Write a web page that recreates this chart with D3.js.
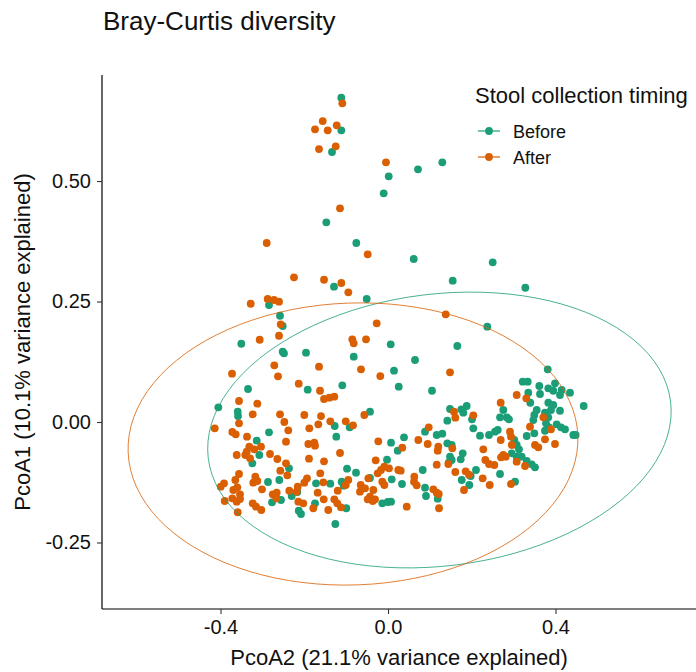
<!DOCTYPE html>
<html>
<head>
<meta charset="utf-8">
<script src="https://cdn.jsdelivr.net/npm/d3@7"></script>
<style>
  body { margin: 0; background: #fff; }
  svg { display: block; font-family: "Liberation Sans", Arial, sans-serif; }
</style>
</head>
<body>
<svg id="chart" width="696" height="672"></svg>
<script>
// PCoA coordinates: [PcoA2, PcoA1]
const before = [
  [-0.1115,0.6728],[-0.1115,0.6052],[-0.1337,0.5602],[-0.1473,0.4143],[-0.1290,0.2807],
  [-0.2842,0.2427],[-0.2579,0.2205],[-0.2515,0.1992],[0.0017,0.5098],[0.0716,0.5243],
  [0.1297,0.5388],[-0.0103,0.4745],[-0.0757,0.3714],[0.0614,0.3382],[0.2500,0.3313],
  [0.1545,0.2932],[0.3279,0.2786],[-0.0509,0.2552],[0.2371,0.1977],[-0.3503,0.1624],
  [-0.2515,0.1459],[-0.2484,0.1425],[-0.3343,0.0685],[-0.4052,0.0305],[-0.3589,0.0214],
  [-0.3582,0.0124],[-0.2842,-0.0214],[-0.3135,-0.0388],[-0.3073,-0.0685],[-0.3240,-0.0857],
  [-0.2364,-0.0961],[-0.2866,-0.1245],[-0.2596,-0.1203],[-0.2770,-0.1666],[-0.2555,-0.1618],
  [-0.2300,-0.1535],[-0.2132,-0.1840],[0.0064,0.1612],[-0.1958,0.1438],[-0.0819,0.1355],
  [0.0143,0.1064],[-0.1918,0.0670],[-0.1091,0.0761],[-0.0430,0.0214],[-0.1273,-0.0083],
  [-0.0915,-0.0110],[-0.1235,-0.0305],[0.0072,-0.0429],[-0.0024,-0.0782],[-0.0979,-0.0969],
  [-0.0764,-0.1052],[-0.1106,-0.1239],[-0.0430,-0.1162],[0.0088,-0.1189],[-0.1719,-0.1272],
  [-0.1378,-0.1280],[-0.1058,-0.1322],[-0.2166,-0.1452],[-0.1743,-0.1687],[-0.0136,-0.1687],
  [-0.0007,-0.1660],[-0.0996,-0.1790],[-0.2078,-0.1909],[-0.1258,-0.2116],[0.1655,0.1577],
  [0.0645,0.1286],[0.0256,0.0732],[0.1051,0.0649],[0.1481,0.0270],[0.1750,0.0263],
  [0.1879,0.0332],[0.1798,0.0193],[0.1416,0.0027],[0.2006,0.0056],[0.2037,-0.0131],
  [0.2197,-0.0284],[0.2412,-0.0270],[0.0884,-0.0201],[0.1163,-0.0270],[0.1297,-0.0243],
  [0.0382,-0.0317],[0.1416,-0.0442],[0.1521,-0.0477],[0.0232,-0.0595],[0.1784,-0.0649],
  [0.1481,-0.0720],[0.1450,-0.0844],[0.1521,-0.0788],[0.1736,-0.0774],[0.0829,-0.0996],
  [0.2101,-0.0996],[0.1975,-0.1120],[0.1760,-0.1203],[0.1941,-0.1307],[0.0334,-0.1286],
  [0.0884,-0.1363],[0.0907,-0.1535],[0.1187,-0.1591],[0.0072,-0.1654],[0.3814,0.1093],
  [0.3217,0.0836],[0.3336,0.0836],[0.3613,0.0747],[0.3828,0.0699],[0.3988,0.0803],
  [0.3947,0.0649],[0.4148,0.0664],[0.4107,0.0560],[0.4346,0.0608],[0.3350,0.0608],
  [0.3630,0.0581],[0.3398,0.0400],[0.4673,0.0332],[0.3828,0.0400],[0.3947,0.0353],
  [0.3892,0.0249],[0.4107,0.0234],[0.3749,0.0193],[0.3551,0.0249],[0.3494,0.0145],
  [0.3470,0.0041],[0.3828,0.0098],[0.3773,-0.0027],[0.3845,-0.0110],[0.3749,-0.0181],
  [0.4028,-0.0048],[0.4131,-0.0110],[0.4227,-0.0151],[0.4425,-0.0270],[0.4482,-0.0270],
  [0.2753,0.0249],[0.2675,0.0098],[0.2835,0.0098],[0.2889,0.0056],[0.3312,-0.0290],
  [0.3494,-0.0234],[0.2555,-0.0201],[0.2620,-0.0166],[0.3016,-0.0373],[0.3073,-0.0477],
  [0.3128,-0.0566],[0.2954,-0.0649],[0.3073,-0.0720],[0.3193,-0.0720],[0.3312,-0.0809],
  [0.3432,-0.0878],[0.3510,-0.0940],[0.2675,-0.1079],[0.3033,-0.1239]
];

const after = [
  [-0.1091,0.6612],[-0.1559,0.6245],[-0.1743,0.6073],[-0.1440,0.6052],[-0.1225,0.6156],
  [-0.1648,0.5664],[-0.1249,0.5720],[-0.1146,0.4434],[-0.2897,0.3714],[-0.2245,0.3002],
  [-0.1528,0.2952],[-0.1115,0.2884],[-0.0948,0.2691],[-0.3279,0.2454],[-0.2873,0.2552],
  [-0.2722,0.2531],[-0.2603,0.2496],[-0.2562,0.2027],[-0.0048,0.5388],[-0.0485,0.3479],
  [-0.0270,0.2048],[0.1378,0.2234],[-0.3064,0.1707],[-0.2603,0.1790],[-0.3725,0.1002],
  [-0.2715,0.1176],[-0.2627,0.0948],[-0.2132,0.0795],[-0.3558,0.0436],[-0.3121,0.0380],
  [-0.3558,-0.0027],[-0.3231,0.0160],[-0.2579,0.0160],[-0.2476,0.0000],[-0.2381,-0.0172],
  [-0.4138,-0.0131],[-0.3718,-0.0207],[-0.3637,-0.0255],[-0.3367,-0.0305],[-0.2436,-0.0409],
  [-0.3312,-0.0512],[-0.3374,-0.0616],[-0.3193,-0.0566],[-0.3033,-0.0512],[-0.3613,-0.0685],
  [-0.3408,-0.0685],[-0.3295,-0.0753],[-0.2818,-0.0664],[-0.2643,-0.0768],[-0.2436,-0.0857],
  [-0.2572,-0.1010],[-0.2405,-0.1106],[-0.3558,-0.1079],[-0.3646,-0.1203],[-0.3169,-0.1135],
  [-0.3121,-0.1224],[-0.3217,-0.1259],[-0.3009,-0.1396],[-0.3916,-0.1272],[-0.3995,-0.1342],
  [-0.3694,-0.1411],[-0.3599,-0.1355],[-0.3534,-0.1500],[-0.3718,-0.1583],[-0.3613,-0.1654],
  [-0.3534,-0.1598],[-0.3900,-0.1639],[-0.2753,-0.1500],[-0.2658,-0.1467],[-0.2667,-0.1583],
  [-0.2357,-0.1425],[-0.2180,-0.1446],[-0.2142,-0.1654],[-0.3231,-0.1687],[-0.3152,-0.1757],
  [-0.3026,-0.1826],[-0.3589,-0.1873],[-0.0853,0.1716],[-0.0819,0.1633],[-0.0525,0.1716],
  [-0.1648,0.1147],[-0.0645,0.1093],[-0.0184,0.0954],[-0.1624,0.0649],[-0.1528,0.0477],
  [-0.1402,0.0504],[-0.1282,0.0525],[-0.1999,0.0145],[-0.1600,0.0124],[-0.0566,0.0145],
  [-0.1879,-0.0131],[-0.1664,-0.0048],[-0.1378,0.0015],[-0.1010,0.0015],[-0.0836,-0.0068],
  [-0.1903,-0.0456],[-0.1760,-0.0429],[-0.1743,-0.0492],[-0.1146,-0.0643],[-0.0232,-0.0400],
  [-0.1887,-0.0761],[-0.1528,-0.0815],[-0.0294,-0.0795],[-0.0088,-0.0927],[-0.0167,-0.0996],
  [0.0024,-0.0961],[-0.1617,-0.1064],[-0.1934,-0.1168],[-0.0948,-0.1203],[-0.1010,-0.1307],
  [-0.0470,-0.1168],[-0.0246,-0.1064],[-0.0136,-0.1239],[-0.0088,-0.1307],[-0.2156,-0.1342],
  [-0.1999,-0.1259],[-0.1545,-0.1251],[-0.1201,-0.1425],[-0.1679,-0.1467],[-0.0652,-0.1307],
  [-0.0669,-0.1446],[-0.0549,-0.1376],[-0.0351,-0.1411],[-0.0430,-0.1550],[-0.0365,-0.1639],
  [-0.0485,-0.1604],[-0.0310,-0.1604],[-0.1535,-0.1604],[-0.1282,-0.1604],[-0.1211,-0.1687],
  [-0.1122,-0.1770],[-0.2023,-0.1687],[-0.1784,-0.1790],[-0.1426,-0.1826],[0.1481,0.1031],
  [0.1576,0.0214],[0.1607,0.0089],[0.2037,0.0139],[0.0972,-0.0110],[0.0724,-0.0373],
  [0.0948,-0.0456],[0.1201,-0.0512],[0.1187,-0.0595],[0.1536,-0.0546],[0.0341,-0.0533],
  [0.2276,-0.0566],[0.1440,-0.0871],[0.2324,-0.0788],[0.2412,-0.0871],[0.1163,-0.0886],
  [0.0246,-0.0996],[0.0303,-0.1010],[0.1607,-0.1037],[0.1855,-0.1023],[0.1934,-0.1093],
  [0.2261,-0.1168],[0.0628,-0.1135],[0.0621,-0.1239],[0.0685,-0.1313],[0.1815,-0.1411],
  [0.1082,-0.1396],[0.1163,-0.1467],[0.1211,-0.1494],[0.2429,-0.1307],[0.0447,-0.1757],
  [0.1218,-0.1790],[0.3073,0.0560],[0.3303,0.0492],[0.2691,0.0400],[0.3709,0.0098],
  [0.3892,-0.0151],[0.3391,-0.0098],[0.3749,-0.0359],[0.3988,-0.0456],[0.2913,-0.0201],
  [0.2937,-0.0305],[0.2691,-0.0373],[0.2954,-0.0477],[0.3510,-0.0477],[0.3589,-0.0525],
  [0.2753,-0.0685],[0.2699,-0.0732],[0.2811,-0.0720],[0.3073,-0.0824],[0.3272,-0.0913],
  [0.2539,-0.0892],[0.2937,-0.1286]
];

// confidence ellipses: centre and the two half-axis vectors, in data units
const ellipseBefore = { center: [0.1228, -0.0166], u: [0.552, 0.059], v: [-0.0396, 0.280] };
const ellipseAfter  = { center: [-0.0836, -0.0456], u: [0.537, 0.0168], v: [-0.0122, 0.2923] };

const groups = ["Before", "After"];
const groupColors = ["#1b9e77", "#d95f02"];
const xTicks = [-0.4, 0.0, 0.4];
const yTicks = [-0.25, 0.00, 0.25, 0.50];

var margin = {top: 75, right: 0, bottom: 63, left: 102},
    width = 696 - margin.left - margin.right,
    height = 672 - margin.top - margin.bottom;

var svg = d3.select("#chart");
var g = svg.append("g")
    .attr("transform", "translate(" + margin.left + "," + margin.top + ")");

var x = d3.scaleLinear().domain([-0.683, 0.7355]).range([0, width]);
var y = d3.scaleLinear().domain([-0.388, 0.72]).range([height, 0]);
var color = d3.scaleOrdinal().domain(groups).range(groupColors);
var locale = d3.formatLocale({decimal: ".", thousands: ",", grouping: [3], currency: ["", ""], minus: "-"});

// points
g.append("g").selectAll("circle")
    .data(before)
    .enter().append("circle")
    .attr("cx", d => x(d[0]))
    .attr("cy", d => y(d[1]))
    .attr("r", 3.9)
    .attr("fill", color("Before"));

g.append("g").selectAll("circle")
    .data(after)
    .enter().append("circle")
    .attr("cx", d => x(d[0]))
    .attr("cy", d => y(d[1]))
    .attr("r", 3.9)
    .attr("fill", color("After"));

// ellipses
function ellipsePoints(e) {
    return d3.range(0, 101).map(i => {
        const t = i / 100 * 2 * Math.PI;
        return [e.center[0] + Math.cos(t) * e.u[0] + Math.sin(t) * e.v[0],
                e.center[1] + Math.cos(t) * e.u[1] + Math.sin(t) * e.v[1]];
    });
}
var line = d3.line().x(d => x(d[0])).y(d => y(d[1]));
[[ellipseBefore, "Before"], [ellipseAfter, "After"]].forEach(function(p) {
    g.append("path")
        .datum(ellipsePoints(p[0]))
        .attr("fill", "none")
        .attr("stroke", color(p[1]))
        .attr("stroke-opacity", 0.8)
        .attr("stroke-width", 1)
        .attr("d", line);
});

// axes
var xAxis = g.append("g")
    .attr("transform", "translate(0," + height + ")")
    .call(d3.axisBottom(x).tickValues(xTicks).tickFormat(locale.format(".1f")).tickSizeOuter(0).tickSize(5).tickPadding(6));
var yAxis = g.append("g")
    .call(d3.axisLeft(y).tickValues(yTicks).tickFormat(locale.format(".2f")).tickSizeOuter(0).tickSize(5).tickPadding(6));
[xAxis, yAxis].forEach(function(a) {
    a.select(".domain").attr("stroke", "#000").attr("stroke-width", 1.2);
    a.selectAll(".tick line").attr("stroke", "#333").attr("stroke-width", 1.1);
    a.selectAll(".tick text").attr("fill", "#111").style("font-size", "20px").style("font-family", "Liberation Sans, Arial, sans-serif");
});
yAxis.select(".domain").attr("d", "M0," + height + "V0");
xAxis.select(".domain").attr("d", "M0,0H" + width);

// titles
svg.append("text")
    .attr("x", 103).attr("y", 30)
    .attr("fill", "#111")
    .style("font-size", "26px")
    .text("Bray-Curtis diversity");

svg.append("text")
    .attr("x", margin.left + width / 2).attr("y", 665)
    .attr("text-anchor", "middle")
    .attr("fill", "#111")
    .style("font-size", "22px")
    .text("PcoA2 (21.1% variance explained)");

svg.append("text")
    .attr("transform", "translate(30," + (margin.top + height / 2) + ") rotate(-90)")
    .attr("text-anchor", "middle")
    .attr("fill", "#111")
    .style("font-size", "22px")
    .text("PcoA1 (10.1% variance explained)");

// legend
var legend = svg.append("g");
legend.append("text")
    .attr("x", 475).attr("y", 103)
    .attr("fill", "#111")
    .style("font-size", "22px")
    .text("Stool collection timing");

groups.forEach(function(name, i) {
    var ly = 131 + i * 26;
    legend.append("line")
        .attr("x1", 478).attr("x2", 500)
        .attr("y1", ly).attr("y2", ly)
        .attr("stroke", color(name)).attr("stroke-width", 1.2);
    legend.append("circle")
        .attr("cx", 489).attr("cy", ly).attr("r", 3.9)
        .attr("fill", color(name));
    legend.append("text")
        .attr("x", 513).attr("y", ly + 7)
        .attr("fill", "#111")
        .style("font-size", "18px")
        .text(name);
});
</script>
</body>
</html>
